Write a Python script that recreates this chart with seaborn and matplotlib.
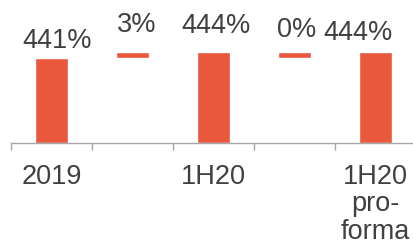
import pandas as pd
import matplotlib.pyplot as plt
import seaborn as sns

# waterfall data (%)
steps = ["2019", "chg1", "1H20", "chg2", "1H20 pro-forma"]
tick_labels = ["2019", "", "1H20", "", "1H20\npro-\nforma"]
values = [441, 3, 444, 0, 444]
is_total = [True, False, True, False, True]

# label nudges in pixels (x, y above bar top)
label_dx = [6, 4, 2, 2, -18]
label_dy = [10, 20, 19, 15, 12]

bar_color = "#E9573D"
text_color = "#404040"
axis_color = "#A6A6A6"
min_h = 3  # keep zero steps visible

sns.set_theme(style="white")
plt.rcParams['font.family'] = ['Liberation Sans', 'DejaVu Sans']

# build bar bottoms / heights
floor = 398.5
rows = []
running = 0
for s, v, t in zip(steps, values, is_total):
    if t:
        running = v
        rows.append((s, floor, v - floor, v))
    else:
        running += v
        h = max(v, min_h)
        rows.append((s, running - h, h, running))
df = pd.DataFrame(rows, columns=["step", "base", "height", "top"])

fig = plt.figure(figsize=(4.13, 2.46), dpi=100)
ax = fig.add_axes([11 / 413, 103 / 246, 405 / 413, 143 / 246])

sns.barplot(data=df, x="step", y="height", order=steps, bottom=df["base"].values,
            color=bar_color, width=0.4, saturation=1, ax=ax)

ax.set_ylim(floor, 470)
ax.set_xlim(-0.5, 4.5)

for i, (v, top) in enumerate(zip(values, df["top"])):
    ax.annotate(f"{v}%", (i, top), xytext=(label_dx[i], label_dy[i]),
                textcoords="offset pixels", ha="center", va="baseline",
                fontsize=19.5, color=text_color)

ax.set_xticks(range(len(steps)))
ax.set_xticklabels(tick_labels, fontsize=19.5, color=text_color, va="top",
                   linespacing=1.08)
ax.set_xticks([i - 0.5 for i in range(len(steps) + 1)], minor=True)
ax.tick_params(axis="x", which="major", length=0, pad=15)
ax.tick_params(axis="x", which="minor", length=5, width=1, color=axis_color, bottom=True)
ax.set_xlabel("")
ax.set_ylabel("")
ax.set_yticks([])

for side in ["top", "right", "left"]:
    ax.spines[side].set_visible(False)
ax.spines["bottom"].set_color(axis_color)
ax.spines["bottom"].set_linewidth(1)

fig.savefig("out.png", dpi=100)
